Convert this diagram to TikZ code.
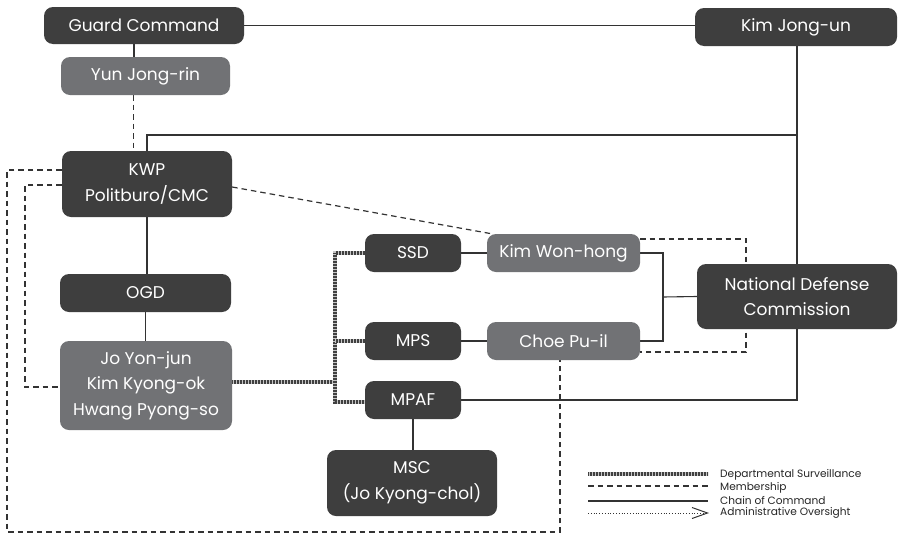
\documentclass[tikz,border=0pt]{standalone}
\usepackage{fontspec}
\setmainfont{Poppins}
\usetikzlibrary{backgrounds,arrows.meta}
\definecolor{boxdark}{HTML}{3E3E3E}
\definecolor{boxgrey}{HTML}{717275}
\definecolor{linec}{HTML}{333333}
\begin{document}
\begin{tikzpicture}[x=1pt,y=-1pt,
  box/.style={rounded corners=9pt, text=white, inner sep=0pt, align=center, font=\fontsize{17}{25.5}\selectfont},
  dark/.style={box, fill=boxdark},
  grey/.style={box, fill=boxgrey},
  chain/.style={draw=linec, line width=1.1pt},
  member/.style={draw=linec, line width=1.2pt, dash pattern=on 5.5pt off 4pt},
  surv/.style={draw=gray!45, line width=4pt, postaction={draw=black!75, line width=3.3pt, dash pattern=on 0.6pt off 0.9pt}},
  admin/.style={draw=linec, line width=0.9pt, dash pattern=on 0.8pt off 2pt},
  legtext/.style={anchor=west, inner sep=0pt, text=black!85, font=\fontsize{10.6}{12}\selectfont}]
\useasboundingbox (0,0) rectangle (898,536);
% nodes
\node[dark, minimum width=200pt, minimum height=37pt] (gc) at (144,25.5) {Guard Command};
\node[grey, minimum width=169pt, minimum height=38pt] (yun) at (145.5,76) {Yun Jong-rin};
\node[dark, minimum width=202pt, minimum height=38pt] (kju) at (796,27) {Kim Jong-un};
\node[dark, minimum width=170pt, minimum height=66pt] (kwp) at (147,184) {KWP\\Politburo/CMC};
\node[dark, minimum width=171pt, minimum height=38pt] (ogd) at (145.5,293) {OGD};
\node[grey, minimum width=172pt, minimum height=89pt] (jo) at (146,385.5) {Jo Yon-jun\\Kim Kyong-ok\\Hwang Pyong-so};
\node[dark, minimum width=96pt, minimum height=38pt] (ssd) at (413,253) {SSD};
\node[grey, minimum width=153pt, minimum height=38pt] (kwh) at (563.5,253) {Kim Won-hong};
\node[dark, minimum width=96pt, minimum height=38pt] (mps) at (413,341) {MPS};
\node[grey, minimum width=153pt, minimum height=38pt] (cpi) at (563.5,341) {Choe Pu-il};
\node[dark, minimum width=96pt, minimum height=38pt] (mpaf) at (413,400) {MPAF};
\node[dark, minimum width=170pt, minimum height=66pt] (msc) at (412,483) {MSC\\(Jo Kyong-chol)};
\node[dark, minimum width=200pt, minimum height=65pt] (ndc) at (797,296.5) {National Defense\\Commission};
% coordinates
\coordinate (j1) at (797,135);
\coordinate (j2) at (663,297);
\coordinate (c1) at (7,532);
\coordinate (c2) at (25,387);
\coordinate (c3) at (746,352);
\coordinate (c4) at (335,402);
% legend texts
\node[legtext] (l1) at (720,475) {Departmental Surveillance};
\node[legtext] (l2) at (720,487.5) {Membership};
\node[legtext] (l3) at (720,500) {Chain of Command};
\node[legtext] (l4) at (720,512.5) {Administrative Oversight};
\coordinate (s1) at (588,474);
\coordinate (s2) at (588,486);
\coordinate (s3) at (588,501);
\coordinate (s4) at (588,513);
\begin{pgfonlayer}{background}
\fill[white] (0,0) rectangle (898,536);
% chain of command
\draw[chain] (gc.east) -- (gc.east -| kju.west);
\draw[chain] ([xshift=-10pt]gc.south) -- ([xshift=-10pt]gc.south |- yun.north);
\draw[chain] (kju.south -| j1) -- (j1 |- mpaf.east) -- (mpaf.east);
\draw[chain] (kwp.north) |- (j1);
\draw[chain] (kwp.south) -- (kwp.south |- ogd.north);
\draw[chain] (ogd.south) -- (ogd.south |- jo.north);
\draw[chain] (ssd.east) -- (kwh.west);
\draw[chain] (mps.east) -- (cpi.west);
\draw[chain] (mpaf.south) -- (mpaf.south |- msc.north);
\draw[chain] (kwh.east) -| (j2) |- (cpi.east);
\draw[chain] (j2) -- (ndc.west);
% membership
\draw[member] ([xshift=-12pt]yun.south) -- ([xshift=-12pt]yun.south |- kwp.north);
\draw[member] ([yshift=-3pt]kwp.east) -- ([xshift=5pt]kwh.north west);
\draw[member] ([yshift=14pt]kwp.west) -| (c1) -| ([xshift=-3.5pt]cpi.south);
\draw[member] ([yshift=-1pt]kwp.west) -| (c2) -- (c2 -| jo.west);
\draw[member] ([yshift=14pt]kwh.east) -| (c3) -- (c3 -| cpi.east);
% surveillance
\draw[surv] ([yshift=3.5pt]jo.east) -- ([yshift=3.5pt]jo.east -| c4);
\draw[surv] (ssd.west) -| (c4) -- (c4 -| mpaf.west);
\draw[surv] (mps.west) -- (mps.west -| c4);
% legend lines
\draw[surv] (s1) -- (s1 -| 708,0);
\draw[member] (s2) -- (s2 -| 708,0);
\draw[chain] (s3) -- (s3 -| 708,0);
\draw[admin] (s4) -- (s4 -| 706,0);
\draw[linec, line width=1pt] (692,507.5) -- (707.5,513) -- (692,518.5);
\end{pgfonlayer}
\end{tikzpicture}
\end{document}
